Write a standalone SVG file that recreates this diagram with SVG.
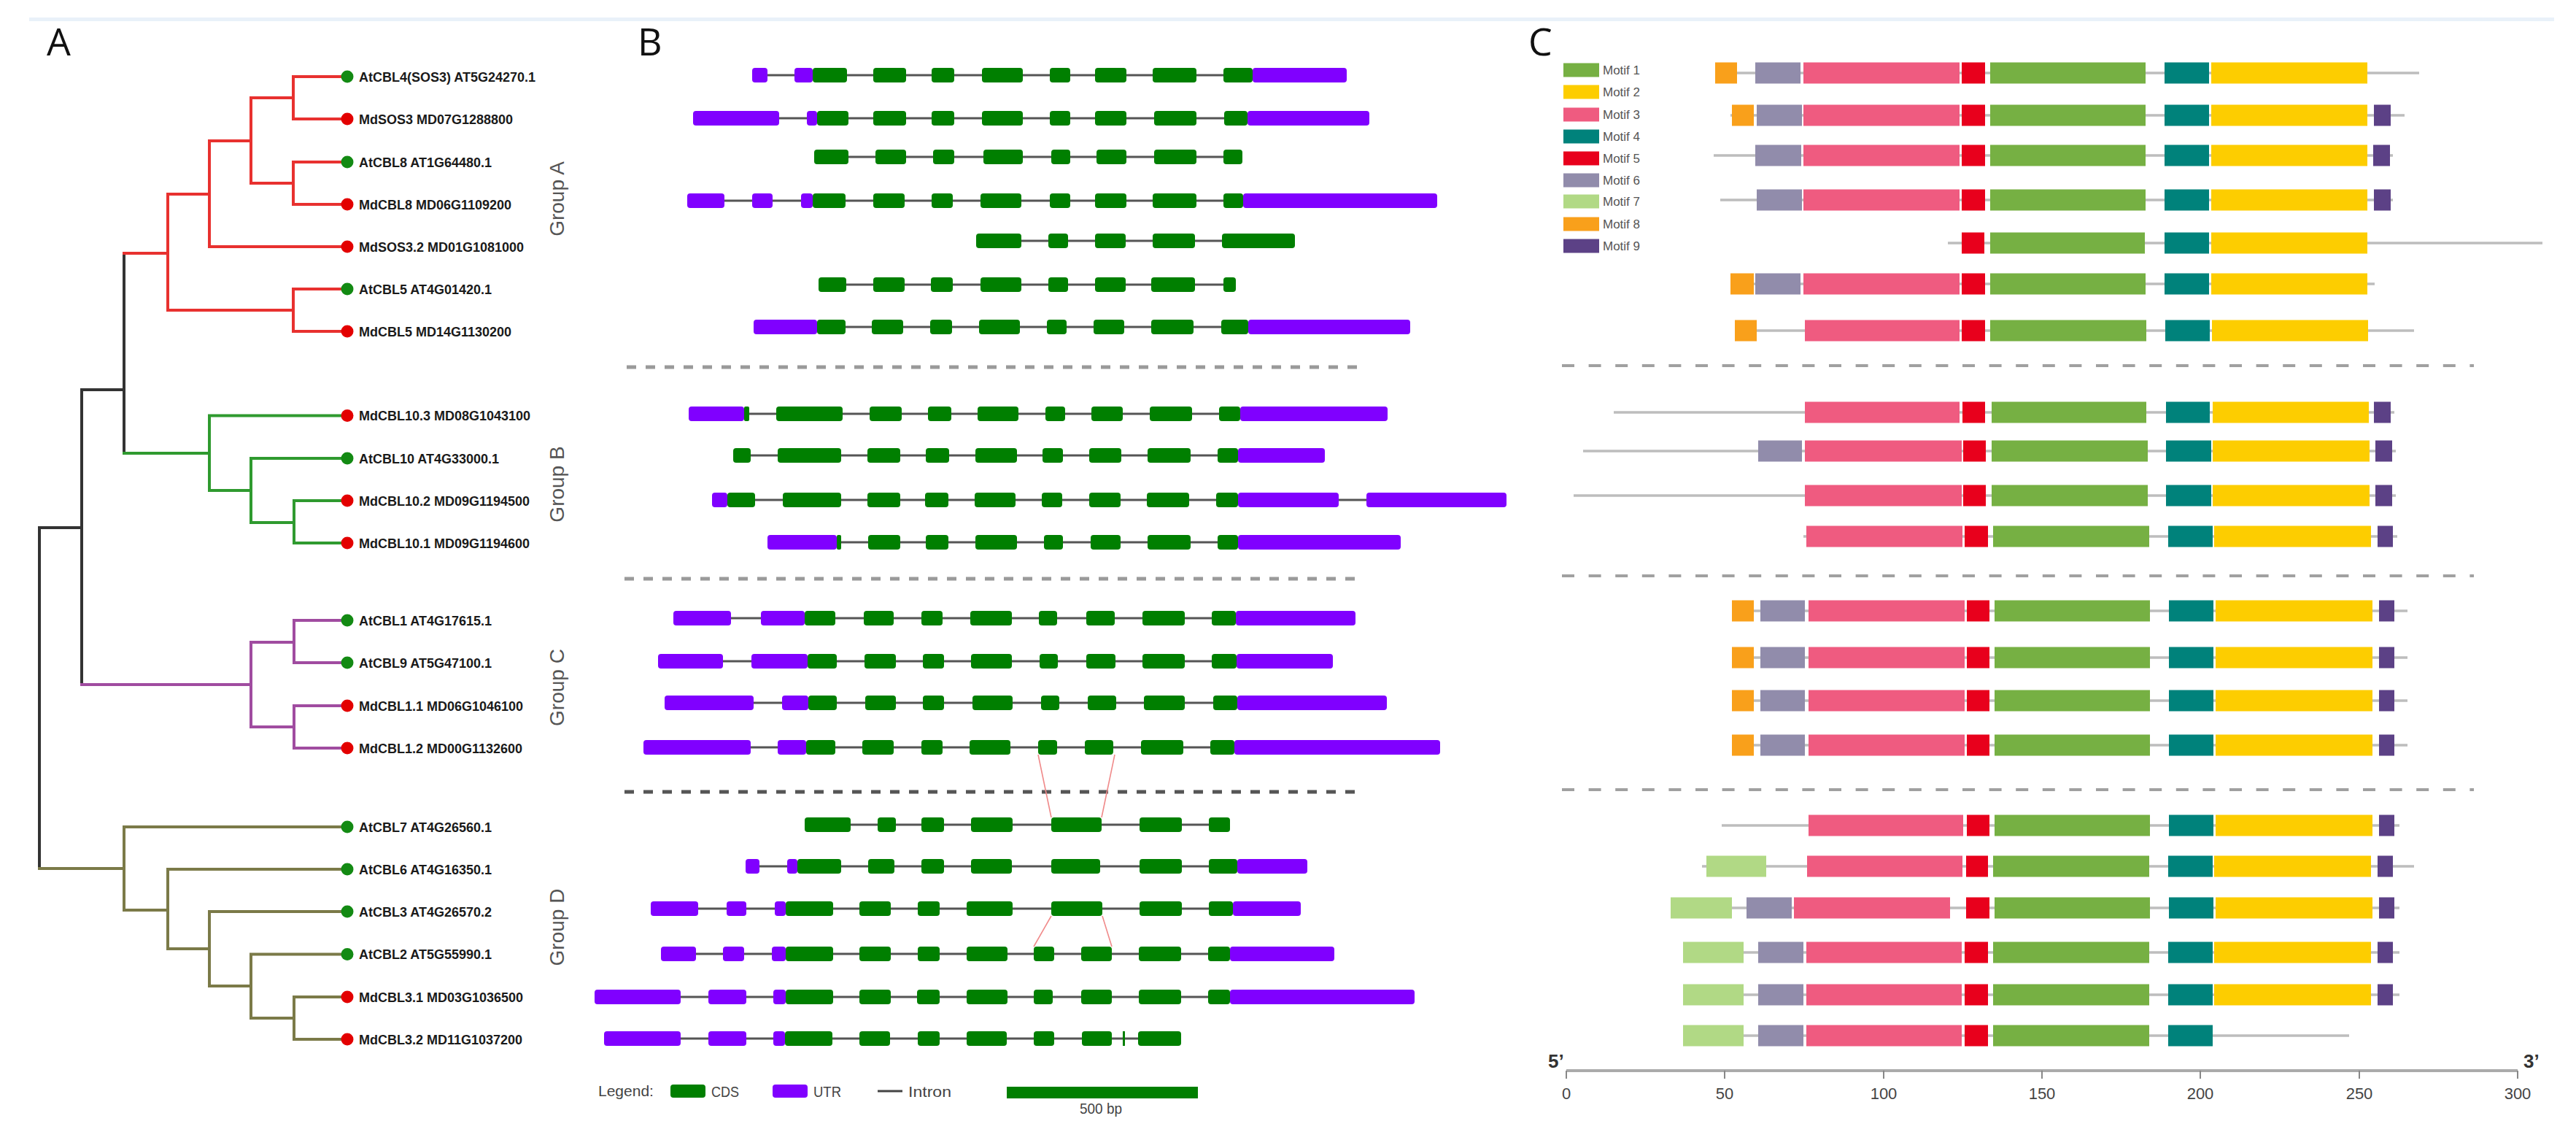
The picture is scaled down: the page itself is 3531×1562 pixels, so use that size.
<svg xmlns="http://www.w3.org/2000/svg" width="3531" height="1562" viewBox="0 0 3531 1562">
<style>
.bg{fill:#ffffff}
.pl{font-family:"Open Sans","Liberation Sans",sans-serif;font-size:52px;fill:#111}
.lf{font-family:"Liberation Sans",Arial,sans-serif;font-size:18px;font-weight:bold;fill:#1a1a1a}
.gl{font-family:"Liberation Sans",Arial,sans-serif;font-size:28px;fill:#555;text-anchor:middle}
.br{fill:none;stroke-width:4;stroke-linecap:square}
.r{stroke:#e8312f}.g{stroke:#2f9a2f}.p{stroke:#a04ca0}.o{stroke:#7b7a48}.k{stroke:#333}
.at{fill:#138a13}.md{fill:#e30000}
.in{stroke:#555;stroke-width:3}
.c{fill:#007f00}
.u{fill:#8000ff}
.dsB{stroke:#9a9a9a;stroke-width:5;stroke-dasharray:13 13}
.dsB2{stroke:#555;stroke-width:5;stroke-dasharray:13 13}
.dsC{stroke:#a0a0a0;stroke-width:4;stroke-dasharray:17 19.6}
.rl{stroke:#f08a8a;stroke-width:1.6;fill:none}
.ml{stroke:#bdbdbd;stroke-width:3.5}
.m1{fill:#76b043}.m2{fill:#fdcd00}.m3{fill:#ef5b80}.m4{fill:#00827b}.m5{fill:#e8001c}
.m6{fill:#918cab}.m7{fill:#b1d985}.m8{fill:#f9a01b}.m9{fill:#5c4186}
.mt{font-family:"Liberation Sans",Arial,sans-serif;font-size:17px;fill:#555}
.lg{font-family:"Liberation Sans",Arial,sans-serif;font-size:21px;fill:#444}
.ax{font-family:"Liberation Sans",Arial,sans-serif;font-size:22px;fill:#444;text-anchor:middle}
.pr{font-family:"Liberation Sans",Arial,sans-serif;font-size:26px;font-weight:bold;fill:#333}
</style>
<rect class="bg" x="0" y="0" width="3531" height="1562"/>
<rect x="40" y="24" width="3461" height="5" fill="#e9f1f9"/>
<text class="pl" x="64" y="76">A</text>
<text class="pl" x="874" y="76">B</text>
<text class="pl" x="2095" y="76">C</text>

<!-- Panel A: tree connectors -->
<g id="tree-connectors">
<path class="br k" d="M170,347 V621 M170,534 H112 M112,534 V938 M112,723 H54 M54,723 V1190"/>
<path class="br r" d="M476,105 H402 V163 H476 M476,222 H402 V280 H476 M476,396 H402 V454 H476 M402,134 H344 V251 H402 M344,193 H287 V338 H476 M287,266 H230 V425 H402 M230,347 H170"/>
<path class="br g" d="M170,621 H287 M476,569.5 H287 V672 H344 M476,628 H344 V716 H403 M476,686 H403 V744 H476"/>
<path class="br p" d="M112,938 H344 M403,880 H344 V996 H403 M476,850 H403 V908 H476 M476,967 H403 V1025 H476"/>
<path class="br o" d="M54,1190 H170 M476,1133 H170 V1247 H230 M476,1191 H230 V1300 H287 M476,1249 H287 V1351 H344 M476,1307.5 H344 V1395 H403 M476,1366 H403 V1424 H476"/>
</g>

<!-- Panel A: leaves -->
<g id="leaf-AtCBL4"><circle class="at" cx="476" cy="105" r="8.5"/><text class="lf" x="492" y="111.5">AtCBL4(SOS3) AT5G24270.1</text></g>
<g id="leaf-MdSOS3"><circle class="md" cx="476" cy="163" r="8.5"/><text class="lf" x="492" y="169.5">MdSOS3 MD07G1288800</text></g>
<g id="leaf-AtCBL8"><circle class="at" cx="476" cy="222" r="8.5"/><text class="lf" x="492" y="228.5">AtCBL8 AT1G64480.1</text></g>
<g id="leaf-MdCBL8"><circle class="md" cx="476" cy="280" r="8.5"/><text class="lf" x="492" y="286.5">MdCBL8 MD06G1109200</text></g>
<g id="leaf-MdSOS3.2"><circle class="md" cx="476" cy="338" r="8.5"/><text class="lf" x="492" y="344.5">MdSOS3.2 MD01G1081000</text></g>
<g id="leaf-AtCBL5"><circle class="at" cx="476" cy="396" r="8.5"/><text class="lf" x="492" y="402.5">AtCBL5 AT4G01420.1</text></g>
<g id="leaf-MdCBL5"><circle class="md" cx="476" cy="454" r="8.5"/><text class="lf" x="492" y="460.5">MdCBL5 MD14G1130200</text></g>
<g id="leaf-MdCBL10.3"><circle class="md" cx="476" cy="569.5" r="8.5"/><text class="lf" x="492" y="576">MdCBL10.3 MD08G1043100</text></g>
<g id="leaf-AtCBL10"><circle class="at" cx="476" cy="628" r="8.5"/><text class="lf" x="492" y="634.5">AtCBL10 AT4G33000.1</text></g>
<g id="leaf-MdCBL10.2"><circle class="md" cx="476" cy="686" r="8.5"/><text class="lf" x="492" y="692.5">MdCBL10.2 MD09G1194500</text></g>
<g id="leaf-MdCBL10.1"><circle class="md" cx="476" cy="744" r="8.5"/><text class="lf" x="492" y="750.5">MdCBL10.1 MD09G1194600</text></g>
<g id="leaf-AtCBL1"><circle class="at" cx="476" cy="850" r="8.5"/><text class="lf" x="492" y="856.5">AtCBL1 AT4G17615.1</text></g>
<g id="leaf-AtCBL9"><circle class="at" cx="476" cy="908" r="8.5"/><text class="lf" x="492" y="914.5">AtCBL9 AT5G47100.1</text></g>
<g id="leaf-MdCBL1.1"><circle class="md" cx="476" cy="967" r="8.5"/><text class="lf" x="492" y="973.5">MdCBL1.1 MD06G1046100</text></g>
<g id="leaf-MdCBL1.2"><circle class="md" cx="476" cy="1025" r="8.5"/><text class="lf" x="492" y="1031.5">MdCBL1.2 MD00G1132600</text></g>
<g id="leaf-AtCBL7"><circle class="at" cx="476" cy="1133" r="8.5"/><text class="lf" x="492" y="1139.5">AtCBL7 AT4G26560.1</text></g>
<g id="leaf-AtCBL6"><circle class="at" cx="476" cy="1191" r="8.5"/><text class="lf" x="492" y="1197.5">AtCBL6 AT4G16350.1</text></g>
<g id="leaf-AtCBL3"><circle class="at" cx="476" cy="1249" r="8.5"/><text class="lf" x="492" y="1255.5">AtCBL3 AT4G26570.2</text></g>
<g id="leaf-AtCBL2"><circle class="at" cx="476" cy="1307.5" r="8.5"/><text class="lf" x="492" y="1314">AtCBL2 AT5G55990.1</text></g>
<g id="leaf-MdCBL3.1"><circle class="md" cx="476" cy="1366" r="8.5"/><text class="lf" x="492" y="1372.5">MdCBL3.1 MD03G1036500</text></g>
<g id="leaf-MdCBL3.2"><circle class="md" cx="476" cy="1424" r="8.5"/><text class="lf" x="492" y="1430.5">MdCBL3.2 MD11G1037200</text></g>

<g id="group-labels">
<text class="gl" transform="translate(773,272.5) rotate(-90)">Group A</text>
<text class="gl" transform="translate(773,663.5) rotate(-90)">Group B</text>
<text class="gl" transform="translate(773,942) rotate(-90)">Group C</text>
<text class="gl" transform="translate(773,1270.5) rotate(-90)">Group D</text>
</g>

<!-- Panel B: gene structures -->
<g id="B-separators">
<line class="dsB" x1="859" y1="503" x2="1862" y2="503"/>
<line class="dsB" x1="856" y1="793" x2="1862" y2="793"/>
<line class="dsB2" x1="856" y1="1085" x2="1862" y2="1085"/>
</g>
<g id="B-row1"><line class="in" x1="1031" y1="103" x2="1846" y2="103"/>
<rect class="u" x="1031" y="93" width="21" height="20" rx="4"/><rect class="u" x="1089" y="93" width="25" height="20" rx="4"/><rect class="c" x="1114" y="93" width="47" height="20" rx="4"/><rect class="c" x="1197" y="93" width="45" height="20" rx="4"/><rect class="c" x="1277" y="93" width="31" height="20" rx="4"/><rect class="c" x="1346" y="93" width="56" height="20" rx="4"/><rect class="c" x="1439" y="93" width="28" height="20" rx="4"/><rect class="c" x="1501" y="93" width="43" height="20" rx="4"/><rect class="c" x="1580" y="93" width="60" height="20" rx="4"/><rect class="c" x="1677" y="93" width="40" height="20" rx="4"/><rect class="u" x="1717" y="93" width="129" height="20" rx="4"/></g>
<g id="B-row2"><line class="in" x1="950" y1="162" x2="1877" y2="162"/>
<rect class="u" x="950" y="152" width="118" height="20" rx="4"/><rect class="u" x="1106" y="152" width="14" height="20" rx="4"/><rect class="c" x="1120" y="152" width="43" height="20" rx="4"/><rect class="c" x="1197" y="152" width="45" height="20" rx="4"/><rect class="c" x="1277" y="152" width="31" height="20" rx="4"/><rect class="c" x="1346" y="152" width="56" height="20" rx="4"/><rect class="c" x="1439" y="152" width="28" height="20" rx="4"/><rect class="c" x="1501" y="152" width="43" height="20" rx="4"/><rect class="c" x="1582" y="152" width="58" height="20" rx="4"/><rect class="c" x="1678" y="152" width="32" height="20" rx="4"/><rect class="u" x="1710" y="152" width="167" height="20" rx="4"/></g>
<g id="B-row3"><line class="in" x1="1116" y1="215" x2="1703" y2="215"/>
<rect class="c" x="1116" y="205" width="47" height="20" rx="4"/><rect class="c" x="1200" y="205" width="42" height="20" rx="4"/><rect class="c" x="1279" y="205" width="29" height="20" rx="4"/><rect class="c" x="1348" y="205" width="54" height="20" rx="4"/><rect class="c" x="1441" y="205" width="26" height="20" rx="4"/><rect class="c" x="1503" y="205" width="41" height="20" rx="4"/><rect class="c" x="1582" y="205" width="58" height="20" rx="4"/><rect class="c" x="1677" y="205" width="26" height="20" rx="4"/></g>
<g id="B-row4"><line class="in" x1="942" y1="275" x2="1970" y2="275"/>
<rect class="u" x="942" y="265" width="51" height="20" rx="4"/><rect class="u" x="1031" y="265" width="28" height="20" rx="4"/><rect class="u" x="1098" y="265" width="16" height="20" rx="4"/><rect class="c" x="1114" y="265" width="45" height="20" rx="4"/><rect class="c" x="1197" y="265" width="43" height="20" rx="4"/><rect class="c" x="1277" y="265" width="29" height="20" rx="4"/><rect class="c" x="1344" y="265" width="56" height="20" rx="4"/><rect class="c" x="1439" y="265" width="28" height="20" rx="4"/><rect class="c" x="1501" y="265" width="43" height="20" rx="4"/><rect class="c" x="1580" y="265" width="60" height="20" rx="4"/><rect class="c" x="1677" y="265" width="27" height="20" rx="4"/><rect class="u" x="1704" y="265" width="266" height="20" rx="4"/></g>
<g id="B-row5"><line class="in" x1="1338" y1="330" x2="1775" y2="330"/>
<rect class="c" x="1338" y="320" width="62" height="20" rx="4"/><rect class="c" x="1437" y="320" width="27" height="20" rx="4"/><rect class="c" x="1501" y="320" width="42" height="20" rx="4"/><rect class="c" x="1580" y="320" width="58" height="20" rx="4"/><rect class="c" x="1675" y="320" width="100" height="20" rx="4"/></g>
<g id="B-row6"><line class="in" x1="1122" y1="390" x2="1694" y2="390"/>
<rect class="c" x="1122" y="380" width="38" height="20" rx="4"/><rect class="c" x="1197" y="380" width="43" height="20" rx="4"/><rect class="c" x="1276" y="380" width="30" height="20" rx="4"/><rect class="c" x="1344" y="380" width="56" height="20" rx="4"/><rect class="c" x="1437" y="380" width="27" height="20" rx="4"/><rect class="c" x="1501" y="380" width="42" height="20" rx="4"/><rect class="c" x="1578" y="380" width="60" height="20" rx="4"/><rect class="c" x="1677" y="380" width="17" height="20" rx="4"/></g>
<g id="B-row7"><line class="in" x1="1033" y1="448" x2="1933" y2="448"/>
<rect class="u" x="1033" y="438" width="87" height="20" rx="4"/><rect class="c" x="1120" y="438" width="39" height="20" rx="4"/><rect class="c" x="1195" y="438" width="43" height="20" rx="4"/><rect class="c" x="1275" y="438" width="30" height="20" rx="4"/><rect class="c" x="1342" y="438" width="56" height="20" rx="4"/><rect class="c" x="1435" y="438" width="27" height="20" rx="4"/><rect class="c" x="1499" y="438" width="42" height="20" rx="4"/><rect class="c" x="1578" y="438" width="58" height="20" rx="4"/><rect class="c" x="1674" y="438" width="37" height="20" rx="4"/><rect class="u" x="1711" y="438" width="222" height="20" rx="4"/></g>
<g id="B-row8"><line class="in" x1="944" y1="567" x2="1902" y2="567"/>
<rect class="u" x="944" y="557" width="76" height="20" rx="4"/><rect class="c" x="1020" y="557" width="7" height="20" rx="2"/><rect class="c" x="1064" y="557" width="91" height="20" rx="4"/><rect class="c" x="1192" y="557" width="44" height="20" rx="4"/><rect class="c" x="1272" y="557" width="32" height="20" rx="4"/><rect class="c" x="1340" y="557" width="56" height="20" rx="4"/><rect class="c" x="1433" y="557" width="27" height="20" rx="4"/><rect class="c" x="1496" y="557" width="43" height="20" rx="4"/><rect class="c" x="1576" y="557" width="58" height="20" rx="4"/><rect class="c" x="1671" y="557" width="29" height="20" rx="4"/><rect class="u" x="1700" y="557" width="202" height="20" rx="4"/></g>
<g id="B-row9"><line class="in" x1="1005" y1="624" x2="1816" y2="624"/>
<rect class="c" x="1005" y="614" width="24" height="20" rx="4"/><rect class="c" x="1066" y="614" width="87" height="20" rx="4"/><rect class="c" x="1189" y="614" width="45" height="20" rx="4"/><rect class="c" x="1269" y="614" width="32" height="20" rx="4"/><rect class="c" x="1337" y="614" width="57" height="20" rx="4"/><rect class="c" x="1429" y="614" width="28" height="20" rx="4"/><rect class="c" x="1493" y="614" width="44" height="20" rx="4"/><rect class="c" x="1573" y="614" width="59" height="20" rx="4"/><rect class="c" x="1669" y="614" width="28" height="20" rx="4"/><rect class="u" x="1697" y="614" width="119" height="20" rx="4"/></g>
<g id="B-row10"><line class="in" x1="976" y1="685" x2="2065" y2="685"/>
<rect class="u" x="976" y="675" width="21" height="20" rx="4"/><rect class="c" x="997" y="675" width="38" height="20" rx="4"/><rect class="c" x="1073" y="675" width="80" height="20" rx="4"/><rect class="c" x="1189" y="675" width="45" height="20" rx="4"/><rect class="c" x="1268" y="675" width="32" height="20" rx="4"/><rect class="c" x="1336" y="675" width="56" height="20" rx="4"/><rect class="c" x="1428" y="675" width="28" height="20" rx="4"/><rect class="c" x="1493" y="675" width="43" height="20" rx="4"/><rect class="c" x="1572" y="675" width="58" height="20" rx="4"/><rect class="c" x="1667" y="675" width="30" height="20" rx="4"/><rect class="u" x="1697" y="675" width="138" height="20" rx="4"/><rect class="u" x="1873" y="675" width="192" height="20" rx="4"/></g>
<g id="B-row11"><line class="in" x1="1052" y1="743" x2="1920" y2="743"/>
<rect class="u" x="1052" y="733" width="95" height="20" rx="4"/><rect class="c" x="1147" y="733" width="6" height="20" rx="2"/><rect class="c" x="1190" y="733" width="44" height="20" rx="4"/><rect class="c" x="1269" y="733" width="31" height="20" rx="4"/><rect class="c" x="1337" y="733" width="57" height="20" rx="4"/><rect class="c" x="1431" y="733" width="26" height="20" rx="4"/><rect class="c" x="1495" y="733" width="41" height="20" rx="4"/><rect class="c" x="1573" y="733" width="59" height="20" rx="4"/><rect class="c" x="1669" y="733" width="28" height="20" rx="4"/><rect class="u" x="1697" y="733" width="223" height="20" rx="4"/></g>
<g id="B-row12"><line class="in" x1="923" y1="847" x2="1858" y2="847"/>
<rect class="u" x="923" y="837" width="79" height="20" rx="4"/><rect class="u" x="1043" y="837" width="60" height="20" rx="4"/><rect class="c" x="1103" y="837" width="42" height="20" rx="4"/><rect class="c" x="1184" y="837" width="41" height="20" rx="4"/><rect class="c" x="1263" y="837" width="29" height="20" rx="4"/><rect class="c" x="1330" y="837" width="57" height="20" rx="4"/><rect class="c" x="1424" y="837" width="25" height="20" rx="4"/><rect class="c" x="1489" y="837" width="39" height="20" rx="4"/><rect class="c" x="1566" y="837" width="58" height="20" rx="4"/><rect class="c" x="1661" y="837" width="33" height="20" rx="4"/><rect class="u" x="1694" y="837" width="164" height="20" rx="4"/></g>
<g id="B-row13"><line class="in" x1="902" y1="906" x2="1827" y2="906"/>
<rect class="u" x="902" y="896" width="89" height="20" rx="4"/><rect class="u" x="1030" y="896" width="77" height="20" rx="4"/><rect class="c" x="1107" y="896" width="40" height="20" rx="4"/><rect class="c" x="1185" y="896" width="43" height="20" rx="4"/><rect class="c" x="1265" y="896" width="29" height="20" rx="4"/><rect class="c" x="1331" y="896" width="56" height="20" rx="4"/><rect class="c" x="1425" y="896" width="25" height="20" rx="4"/><rect class="c" x="1489" y="896" width="40" height="20" rx="4"/><rect class="c" x="1566" y="896" width="58" height="20" rx="4"/><rect class="c" x="1661" y="896" width="34" height="20" rx="4"/><rect class="u" x="1695" y="896" width="132" height="20" rx="4"/></g>
<g id="B-row14"><line class="in" x1="911" y1="963" x2="1901" y2="963"/>
<rect class="u" x="911" y="953" width="122" height="20" rx="4"/><rect class="u" x="1072" y="953" width="36" height="20" rx="4"/><rect class="c" x="1108" y="953" width="39" height="20" rx="4"/><rect class="c" x="1186" y="953" width="42" height="20" rx="4"/><rect class="c" x="1265" y="953" width="29" height="20" rx="4"/><rect class="c" x="1333" y="953" width="55" height="20" rx="4"/><rect class="c" x="1427" y="953" width="25" height="20" rx="4"/><rect class="c" x="1491" y="953" width="39" height="20" rx="4"/><rect class="c" x="1568" y="953" width="56" height="20" rx="4"/><rect class="c" x="1663" y="953" width="33" height="20" rx="4"/><rect class="u" x="1696" y="953" width="205" height="20" rx="4"/></g>
<g id="B-row15"><line class="in" x1="882" y1="1024" x2="1974" y2="1024"/>
<rect class="u" x="882" y="1014" width="147" height="20" rx="4"/><rect class="u" x="1066" y="1014" width="39" height="20" rx="4"/><rect class="c" x="1105" y="1014" width="40" height="20" rx="4"/><rect class="c" x="1182" y="1014" width="43" height="20" rx="4"/><rect class="c" x="1263" y="1014" width="29" height="20" rx="4"/><rect class="c" x="1329" y="1014" width="56" height="20" rx="4"/><rect class="c" x="1423" y="1014" width="26" height="20" rx="4"/><rect class="c" x="1487" y="1014" width="39" height="20" rx="4"/><rect class="c" x="1564" y="1014" width="58" height="20" rx="4"/><rect class="c" x="1659" y="1014" width="33" height="20" rx="4"/><rect class="u" x="1692" y="1014" width="282" height="20" rx="4"/></g>
<g id="B-row16"><line class="in" x1="1103" y1="1130" x2="1686" y2="1130"/>
<rect class="c" x="1103" y="1120" width="63" height="20" rx="4"/><rect class="c" x="1203" y="1120" width="25" height="20" rx="4"/><rect class="c" x="1263" y="1120" width="31" height="20" rx="4"/><rect class="c" x="1331" y="1120" width="57" height="20" rx="4"/><rect class="c" x="1441" y="1120" width="69" height="20" rx="4"/><rect class="c" x="1562" y="1120" width="58" height="20" rx="4"/><rect class="c" x="1657" y="1120" width="29" height="20" rx="4"/></g>
<g id="B-row17"><line class="in" x1="1022" y1="1187" x2="1792" y2="1187"/>
<rect class="u" x="1022" y="1177" width="19" height="20" rx="4"/><rect class="u" x="1079" y="1177" width="14" height="20" rx="4"/><rect class="c" x="1093" y="1177" width="60" height="20" rx="4"/><rect class="c" x="1190" y="1177" width="36" height="20" rx="4"/><rect class="c" x="1263" y="1177" width="31" height="20" rx="4"/><rect class="c" x="1331" y="1177" width="56" height="20" rx="4"/><rect class="c" x="1441" y="1177" width="67" height="20" rx="4"/><rect class="c" x="1562" y="1177" width="58" height="20" rx="4"/><rect class="c" x="1657" y="1177" width="39" height="20" rx="4"/><rect class="u" x="1696" y="1177" width="96" height="20" rx="4"/></g>
<g id="B-row18"><line class="in" x1="892" y1="1245" x2="1783" y2="1245"/>
<rect class="u" x="892" y="1235" width="65" height="20" rx="4"/><rect class="u" x="996" y="1235" width="27" height="20" rx="4"/><rect class="u" x="1062" y="1235" width="15" height="20" rx="4"/><rect class="c" x="1077" y="1235" width="65" height="20" rx="4"/><rect class="c" x="1178" y="1235" width="43" height="20" rx="4"/><rect class="c" x="1258" y="1235" width="30" height="20" rx="4"/><rect class="c" x="1325" y="1235" width="63" height="20" rx="4"/><rect class="c" x="1441" y="1235" width="70" height="20" rx="4"/><rect class="c" x="1562" y="1235" width="58" height="20" rx="4"/><rect class="c" x="1657" y="1235" width="33" height="20" rx="4"/><rect class="u" x="1690" y="1235" width="93" height="20" rx="4"/></g>
<g id="B-row19"><line class="in" x1="906" y1="1307" x2="1829" y2="1307"/>
<rect class="u" x="906" y="1297" width="48" height="20" rx="4"/><rect class="u" x="991" y="1297" width="29" height="20" rx="4"/><rect class="u" x="1058" y="1297" width="19" height="20" rx="4"/><rect class="c" x="1077" y="1297" width="65" height="20" rx="4"/><rect class="c" x="1178" y="1297" width="43" height="20" rx="4"/><rect class="c" x="1258" y="1297" width="30" height="20" rx="4"/><rect class="c" x="1325" y="1297" width="56" height="20" rx="4"/><rect class="c" x="1417" y="1297" width="28" height="20" rx="4"/><rect class="c" x="1482" y="1297" width="42" height="20" rx="4"/><rect class="c" x="1561" y="1297" width="58" height="20" rx="4"/><rect class="c" x="1656" y="1297" width="30" height="20" rx="4"/><rect class="u" x="1686" y="1297" width="143" height="20" rx="4"/></g>
<g id="B-row20"><line class="in" x1="815" y1="1366" x2="1939" y2="1366"/>
<rect class="u" x="815" y="1356" width="118" height="20" rx="4"/><rect class="u" x="971" y="1356" width="52" height="20" rx="4"/><rect class="u" x="1060" y="1356" width="17" height="20" rx="4"/><rect class="c" x="1077" y="1356" width="65" height="20" rx="4"/><rect class="c" x="1178" y="1356" width="43" height="20" rx="4"/><rect class="c" x="1257" y="1356" width="31" height="20" rx="4"/><rect class="c" x="1325" y="1356" width="56" height="20" rx="4"/><rect class="c" x="1417" y="1356" width="26" height="20" rx="4"/><rect class="c" x="1482" y="1356" width="42" height="20" rx="4"/><rect class="c" x="1561" y="1356" width="58" height="20" rx="4"/><rect class="c" x="1656" y="1356" width="30" height="20" rx="4"/><rect class="u" x="1686" y="1356" width="253" height="20" rx="4"/></g>
<g id="B-row21"><line class="in" x1="828" y1="1423" x2="1619" y2="1423"/>
<rect class="u" x="828" y="1413" width="105" height="20" rx="4"/><rect class="u" x="971" y="1413" width="52" height="20" rx="4"/><rect class="u" x="1060" y="1413" width="16" height="20" rx="4"/><rect class="c" x="1076" y="1413" width="65" height="20" rx="4"/><rect class="c" x="1178" y="1413" width="42" height="20" rx="4"/><rect class="c" x="1258" y="1413" width="30" height="20" rx="4"/><rect class="c" x="1325" y="1413" width="55" height="20" rx="4"/><rect class="c" x="1417" y="1413" width="28" height="20" rx="4"/><rect class="c" x="1483" y="1413" width="41" height="20" rx="4"/><rect class="c" x="1539" y="1413" width="3" height="20"/><rect class="c" x="1560" y="1413" width="59" height="20" rx="4"/></g>
<g id="B-links">
<path class="rl" d="M1423,1034 L1441,1120 M1528,1034 L1510,1120 M1441,1255 L1417,1297 M1511,1255 L1524,1297"/>
</g>
<g id="B-legend">
<text class="lg" x="820" y="1502">Legend:</text>
<rect class="c" x="919" y="1486" width="48" height="18" rx="4"/>
<text class="lg" x="975" y="1503" textLength="38" lengthAdjust="spacingAndGlyphs">CDS</text>
<rect class="u" x="1059" y="1486" width="48" height="18" rx="4"/>
<text class="lg" x="1115" y="1503" textLength="38" lengthAdjust="spacingAndGlyphs">UTR</text>
<line x1="1203" y1="1495" x2="1237" y2="1495" stroke="#444" stroke-width="3"/>
<text class="lg" x="1245" y="1503" textLength="59" lengthAdjust="spacingAndGlyphs">Intron</text>
<rect class="c" x="1380" y="1489" width="262" height="16"/>
<text class="lg" x="1480" y="1526" font-size="18" textLength="58" lengthAdjust="spacingAndGlyphs">500 bp</text>
</g>

<!-- Panel C: motifs -->
<g id="C-legend">
<rect class="m1" x="2143" y="86.5" width="49" height="19"/><text class="mt" x="2197" y="102">Motif 1</text>
<rect class="m2" x="2143" y="116.5" width="49" height="19"/><text class="mt" x="2197" y="132">Motif 2</text>
<rect class="m3" x="2143" y="147.5" width="49" height="19"/><text class="mt" x="2197" y="163">Motif 3</text>
<rect class="m4" x="2143" y="177.5" width="49" height="19"/><text class="mt" x="2197" y="193">Motif 4</text>
<rect class="m5" x="2143" y="207.5" width="49" height="19"/><text class="mt" x="2197" y="223">Motif 5</text>
<rect class="m6" x="2143" y="237.5" width="49" height="19"/><text class="mt" x="2197" y="253">Motif 6</text>
<rect class="m7" x="2143" y="266.5" width="49" height="19"/><text class="mt" x="2197" y="282">Motif 7</text>
<rect class="m8" x="2143" y="297.5" width="49" height="19"/><text class="mt" x="2197" y="313">Motif 8</text>
<rect class="m9" x="2143" y="327.5" width="49" height="19"/><text class="mt" x="2197" y="343">Motif 9</text>
</g>
<g id="C-separators">
<line class="dsC" x1="2141" y1="501" x2="3391" y2="501"/>
<line class="dsC" x1="2141" y1="789" x2="3391" y2="789"/>
<line class="dsC" x1="2141" y1="1082" x2="3391" y2="1082"/>
</g>
<g id="C-row1"><line class="ml" x1="2351" y1="100" x2="3316" y2="100"/><rect class="m8" x="2351" y="85.5" width="30" height="29"/><rect class="m6" x="2406" y="85.5" width="62" height="29"/><rect class="m3" x="2472" y="85.5" width="214" height="29"/><rect class="m5" x="2689" y="85.5" width="32" height="29"/><rect class="m1" x="2728" y="85.5" width="213" height="29"/><rect class="m4" x="2967" y="85.5" width="61" height="29"/><rect class="m2" x="3031" y="85.5" width="214" height="29"/></g>
<g id="C-row2"><line class="ml" x1="2372" y1="158" x2="3296" y2="158"/><rect class="m8" x="2374" y="143.5" width="30" height="29"/><rect class="m6" x="2408" y="143.5" width="62" height="29"/><rect class="m3" x="2472" y="143.5" width="214" height="29"/><rect class="m5" x="2689" y="143.5" width="32" height="29"/><rect class="m1" x="2728" y="143.5" width="213" height="29"/><rect class="m4" x="2967" y="143.5" width="61" height="29"/><rect class="m2" x="3031" y="143.5" width="214" height="29"/><rect class="m9" x="3254" y="143.5" width="23" height="29"/></g>
<g id="C-row3"><line class="ml" x1="2349" y1="213" x2="3280" y2="213"/><rect class="m6" x="2406" y="198.5" width="63" height="29"/><rect class="m3" x="2472" y="198.5" width="214" height="29"/><rect class="m5" x="2689" y="198.5" width="32" height="29"/><rect class="m1" x="2728" y="198.5" width="213" height="29"/><rect class="m4" x="2967" y="198.5" width="61" height="29"/><rect class="m2" x="3031" y="198.5" width="214" height="29"/><rect class="m9" x="3253" y="198.5" width="23" height="29"/></g>
<g id="C-row4"><line class="ml" x1="2358" y1="274" x2="3280" y2="274"/><rect class="m6" x="2408" y="259.5" width="62" height="29"/><rect class="m3" x="2472" y="259.5" width="214" height="29"/><rect class="m5" x="2689" y="259.5" width="32" height="29"/><rect class="m1" x="2728" y="259.5" width="213" height="29"/><rect class="m4" x="2967" y="259.5" width="61" height="29"/><rect class="m2" x="3031" y="259.5" width="214" height="29"/><rect class="m9" x="3254" y="259.5" width="23" height="29"/></g>
<g id="C-row5"><line class="ml" x1="2670" y1="333" x2="3485" y2="333"/><rect class="m5" x="2689" y="318.5" width="31" height="29"/><rect class="m1" x="2728" y="318.5" width="212" height="29"/><rect class="m4" x="2967" y="318.5" width="61" height="29"/><rect class="m2" x="3031" y="318.5" width="214" height="29"/></g>
<g id="C-row6"><line class="ml" x1="2372" y1="389" x2="3255" y2="389"/><rect class="m8" x="2372" y="374.5" width="32" height="29"/><rect class="m6" x="2406" y="374.5" width="62" height="29"/><rect class="m3" x="2472" y="374.5" width="214" height="29"/><rect class="m5" x="2689" y="374.5" width="32" height="29"/><rect class="m1" x="2728" y="374.5" width="213" height="29"/><rect class="m4" x="2967" y="374.5" width="61" height="29"/><rect class="m2" x="3031" y="374.5" width="214" height="29"/></g>
<g id="C-row7"><line class="ml" x1="2378" y1="453" x2="3309" y2="453"/><rect class="m8" x="2378" y="438.5" width="30" height="29"/><rect class="m3" x="2474" y="438.5" width="212" height="29"/><rect class="m5" x="2689" y="438.5" width="32" height="29"/><rect class="m1" x="2728" y="438.5" width="214" height="29"/><rect class="m4" x="2968" y="438.5" width="61" height="29"/><rect class="m2" x="3032" y="438.5" width="214" height="29"/></g>
<g id="C-row8"><line class="ml" x1="2212" y1="565" x2="3282" y2="565"/><rect class="m3" x="2474" y="550.5" width="212" height="29"/><rect class="m5" x="2690" y="550.5" width="31" height="29"/><rect class="m1" x="2730" y="550.5" width="212" height="29"/><rect class="m4" x="2969" y="550.5" width="60" height="29"/><rect class="m2" x="3033" y="550.5" width="214" height="29"/><rect class="m9" x="3254" y="550.5" width="23" height="29"/></g>
<g id="C-row9"><line class="ml" x1="2170" y1="618" x2="3284" y2="618" stroke="#dcdcdc"/><rect class="m6" x="2410" y="603.5" width="60" height="29"/><rect class="m3" x="2474" y="603.5" width="215" height="29"/><rect class="m5" x="2691" y="603.5" width="31" height="29"/><rect class="m1" x="2730" y="603.5" width="214" height="29"/><rect class="m4" x="2969" y="603.5" width="62" height="29"/><rect class="m2" x="3033" y="603.5" width="215" height="29"/><rect class="m9" x="3256" y="603.5" width="23" height="29"/></g>
<g id="C-row10"><line class="ml" x1="2157" y1="679" x2="3284" y2="679"/><rect class="m3" x="2474" y="664.5" width="215" height="29"/><rect class="m5" x="2691" y="664.5" width="31" height="29"/><rect class="m1" x="2730" y="664.5" width="214" height="29"/><rect class="m4" x="2969" y="664.5" width="62" height="29"/><rect class="m2" x="3033" y="664.5" width="215" height="29"/><rect class="m9" x="3256" y="664.5" width="23" height="29"/></g>
<g id="C-row11"><line class="ml" x1="2472" y1="735" x2="3286" y2="735"/><rect class="m3" x="2476" y="720.5" width="214" height="29"/><rect class="m5" x="2693" y="720.5" width="32" height="29"/><rect class="m1" x="2732" y="720.5" width="214" height="29"/><rect class="m4" x="2972" y="720.5" width="61" height="29"/><rect class="m2" x="3035" y="720.5" width="215" height="29"/><rect class="m9" x="3259" y="720.5" width="21" height="29"/></g>
<g id="C-row12"><line class="ml" x1="2374" y1="837" x2="3300" y2="837"/><rect class="m8" x="2374" y="822.5" width="30" height="29"/><rect class="m6" x="2413" y="822.5" width="61" height="29"/><rect class="m3" x="2479" y="822.5" width="214" height="29"/><rect class="m5" x="2696" y="822.5" width="31" height="29"/><rect class="m1" x="2734" y="822.5" width="213" height="29"/><rect class="m4" x="2973" y="822.5" width="61" height="29"/><rect class="m2" x="3037" y="822.5" width="215" height="29"/><rect class="m9" x="3261" y="822.5" width="21" height="29"/></g>
<g id="C-row13"><line class="ml" x1="2374" y1="901" x2="3300" y2="901"/><rect class="m8" x="2374" y="886.5" width="30" height="29"/><rect class="m6" x="2413" y="886.5" width="61" height="29"/><rect class="m3" x="2479" y="886.5" width="214" height="29"/><rect class="m5" x="2696" y="886.5" width="31" height="29"/><rect class="m1" x="2734" y="886.5" width="213" height="29"/><rect class="m4" x="2973" y="886.5" width="61" height="29"/><rect class="m2" x="3037" y="886.5" width="215" height="29"/><rect class="m9" x="3261" y="886.5" width="21" height="29"/></g>
<g id="C-row14"><line class="ml" x1="2374" y1="960" x2="3300" y2="960"/><rect class="m8" x="2374" y="945.5" width="30" height="29"/><rect class="m6" x="2413" y="945.5" width="61" height="29"/><rect class="m3" x="2479" y="945.5" width="214" height="29"/><rect class="m5" x="2696" y="945.5" width="31" height="29"/><rect class="m1" x="2734" y="945.5" width="213" height="29"/><rect class="m4" x="2973" y="945.5" width="61" height="29"/><rect class="m2" x="3037" y="945.5" width="215" height="29"/><rect class="m9" x="3261" y="945.5" width="21" height="29"/></g>
<g id="C-row15"><line class="ml" x1="2374" y1="1021" x2="3300" y2="1021"/><rect class="m8" x="2374" y="1006.5" width="30" height="29"/><rect class="m6" x="2413" y="1006.5" width="61" height="29"/><rect class="m3" x="2479" y="1006.5" width="214" height="29"/><rect class="m5" x="2696" y="1006.5" width="31" height="29"/><rect class="m1" x="2734" y="1006.5" width="213" height="29"/><rect class="m4" x="2973" y="1006.5" width="61" height="29"/><rect class="m2" x="3037" y="1006.5" width="215" height="29"/><rect class="m9" x="3261" y="1006.5" width="21" height="29"/></g>
<g id="C-row16"><line class="ml" x1="2360" y1="1131" x2="3289" y2="1131"/><rect class="m3" x="2479" y="1116.5" width="212" height="29"/><rect class="m5" x="2696" y="1116.5" width="31" height="29"/><rect class="m1" x="2734" y="1116.5" width="213" height="29"/><rect class="m4" x="2973" y="1116.5" width="61" height="29"/><rect class="m2" x="3037" y="1116.5" width="215" height="29"/><rect class="m9" x="3261" y="1116.5" width="21" height="29"/></g>
<g id="C-row17"><line class="ml" x1="2333" y1="1187" x2="3309" y2="1187"/><rect class="m7" x="2339" y="1172.5" width="82" height="29"/><rect class="m3" x="2477" y="1172.5" width="213" height="29"/><rect class="m5" x="2695" y="1172.5" width="30" height="29"/><rect class="m1" x="2732" y="1172.5" width="214" height="29"/><rect class="m4" x="2972" y="1172.5" width="61" height="29"/><rect class="m2" x="3035" y="1172.5" width="215" height="29"/><rect class="m9" x="3259" y="1172.5" width="21" height="29"/></g>
<g id="C-row18"><line class="ml" x1="2290" y1="1244" x2="3289" y2="1244"/><rect class="m7" x="2290" y="1229.5" width="84" height="29"/><rect class="m6" x="2394" y="1229.5" width="62" height="29"/><rect class="m3" x="2459" y="1229.5" width="214" height="29"/><rect class="m5" x="2695" y="1229.5" width="32" height="29"/><rect class="m1" x="2734" y="1229.5" width="213" height="29"/><rect class="m4" x="2973" y="1229.5" width="61" height="29"/><rect class="m2" x="3037" y="1229.5" width="215" height="29"/><rect class="m9" x="3261" y="1229.5" width="21" height="29"/></g>
<g id="C-row19"><line class="ml" x1="2307" y1="1305" x2="3289" y2="1305"/><rect class="m7" x="2307" y="1290.5" width="83" height="29"/><rect class="m6" x="2410" y="1290.5" width="62" height="29"/><rect class="m3" x="2476" y="1290.5" width="213" height="29"/><rect class="m5" x="2693" y="1290.5" width="32" height="29"/><rect class="m1" x="2732" y="1290.5" width="214" height="29"/><rect class="m4" x="2972" y="1290.5" width="61" height="29"/><rect class="m2" x="3035" y="1290.5" width="215" height="29"/><rect class="m9" x="3259" y="1290.5" width="21" height="29"/></g>
<g id="C-row20"><line class="ml" x1="2307" y1="1363" x2="3289" y2="1363"/><rect class="m7" x="2307" y="1348.5" width="83" height="29"/><rect class="m6" x="2410" y="1348.5" width="62" height="29"/><rect class="m3" x="2476" y="1348.5" width="213" height="29"/><rect class="m5" x="2693" y="1348.5" width="32" height="29"/><rect class="m1" x="2732" y="1348.5" width="214" height="29"/><rect class="m4" x="2972" y="1348.5" width="61" height="29"/><rect class="m2" x="3035" y="1348.5" width="215" height="29"/><rect class="m9" x="3259" y="1348.5" width="21" height="29"/></g>
<g id="C-row21"><line class="ml" x1="2307" y1="1419" x2="3220" y2="1419"/><rect class="m7" x="2307" y="1404.5" width="83" height="29"/><rect class="m6" x="2410" y="1404.5" width="62" height="29"/><rect class="m3" x="2476" y="1404.5" width="213" height="29"/><rect class="m5" x="2693" y="1404.5" width="32" height="29"/><rect class="m1" x="2732" y="1404.5" width="214" height="29"/><rect class="m4" x="2972" y="1404.5" width="61" height="29"/></g>
<g id="C-axis">
<line x1="2147" y1="1467" x2="3451" y2="1467" stroke="#aaa" stroke-width="4"/>
<path d="M2147,1467 V1478 M2364,1467 V1478 M2582,1467 V1478 M2799,1467 V1478 M3016,1467 V1478 M3234,1467 V1478 M3451,1467 V1478" stroke="#888" stroke-width="2"/>
<text class="ax" x="2147" y="1506">0</text>
<text class="ax" x="2364" y="1506">50</text>
<text class="ax" x="2582" y="1506">100</text>
<text class="ax" x="2799" y="1506">150</text>
<text class="ax" x="3016" y="1506">200</text>
<text class="ax" x="3234" y="1506">250</text>
<text class="ax" x="3451" y="1506">300</text>
<text class="pr" x="2122" y="1463">5’</text>
<text class="pr" x="3459" y="1463">3’</text>
</g>
</svg>
